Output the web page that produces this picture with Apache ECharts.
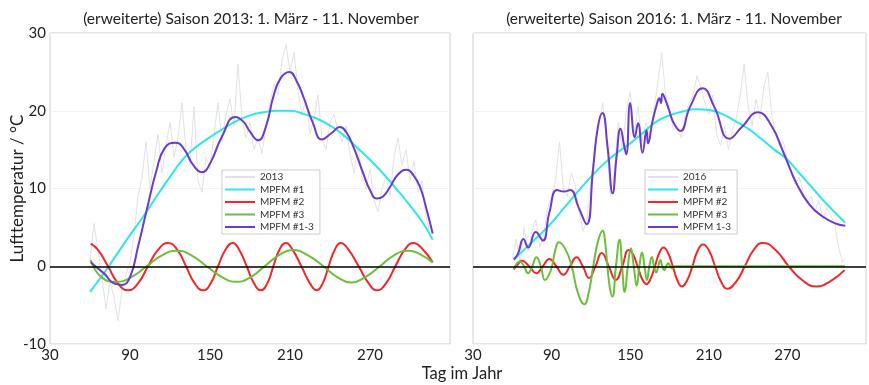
<!DOCTYPE html>
<html><head><meta charset="utf-8">
<script src="https://cdn.jsdelivr.net/npm/echarts@6/dist/echarts.min.js"></script>
<style>html,body{margin:0;padding:0;background:#fff}#c{width:869px;height:385px}</style>
</head><body><div id="c"></div>
<script>
const FONT = 'Lato, "Open Sans", sans-serif';

const titles = ['(erweiterte) Saison 2013: 1. März - 11. November', '(erweiterte) Saison 2016: 1. März - 11. November'];
const legend2013 = ['2013', 'MPFM #1', 'MPFM #2', 'MPFM #3', 'MPFM #1-3'];
const legend2016 = ['2016', 'MPFM #1', 'MPFM #2', 'MPFM #3', 'MPFM 1-3'];
const xName = 'Tag im Jahr';
const yName = 'Lufttemperatur / °C';

// ---- 2013 ----
const rawDays2013 = [60,63,66,69,72,75,78,81,84,87,90,93,96,99,102,105,108,111,114,117,120,123,126,129,132,135,138,141,144,147,150,153,156,159,162,165,168,171,174,177,180,183,186,189,192,195,198,201,204,207,210,213,216,219,222,225,228,231,234,237,240,243,246,249,252,255,258,261,264,267,270,273,276,279,282,285,288,291,294,297,300,303,306,309,312,315];
const raw2013 = [0.5,5.5,2.0,-1.5,-5.5,-2.0,-4.0,-7.0,-3.0,-1.0,0.5,4.0,9.0,11.5,16.0,10.0,13.5,17.0,12.0,15.5,18.5,14.0,16.5,21.0,15.0,13.0,20.5,11.0,9.5,14.0,12.5,17.0,21.0,16.0,19.5,21.5,18.0,26.0,19.0,16.5,18.5,15.0,16.5,14.5,18.0,21.0,23.5,22.0,26.5,28.5,25.0,27.5,22.5,19.5,21.5,17.0,19.0,22.0,16.5,15.0,18.5,19.5,17.5,16.0,18.0,14.5,12.0,15.5,11.5,10.0,12.5,8.5,7.0,10.0,11.5,9.0,14.0,16.5,13.0,15.0,11.0,13.5,9.5,11.0,6.5,4.0];

const m1Days2013 = [60,70,80,90,100,110,120,130,140,150,160,170,180,190,200,210,220,230,240,250,260,270,280,290,300,310,317];
const m1_2013 = [-3.3,-1.0,1.5,4.0,6.4,9.0,11.5,13.8,15.4,16.6,17.7,18.7,19.4,19.8,20.0,20.0,19.6,19.0,18.1,16.9,15.3,13.7,11.9,9.9,7.8,5.5,3.4];

const m2Days2013 = [60.5,66,73.5,81,88.5,96,103.5,111,118.5,125.5,132,138.5,145,150.5,156,161.5,167,172,177.5,183,188,193,197.5,202,207,212,218.5,225,230,234.5,239,243.5,248,254,261.5,269,275,282,289,296,302.5,310,317];
const m2_2013 = [2.9,2.1,0,-2.2,-3.1,-2.2,0,2.1,3.0,2.1,0,-2.2,-3.1,-2.2,0,2.1,3.0,2.1,0,-2.2,-3.1,-2.2,0,2.1,3.0,2.1,0,-2.2,-3.1,-2.2,0,2.1,3.0,2.1,0,-2.2,-3.1,-2.2,0,2.1,3.0,2.1,0.5];

const m3Days2013 = [60.5,68.5,80,91,102.5,114,125,136,147.5,159,170,180.5,191,201.5,212,223.5,235,245.5,256,266.5,277.5,288,299,308,317];
const m3_2013 = [0.8,-1.4,-2.0,-1.4,0,1.4,2.0,1.4,0,-1.4,-2.0,-1.4,0,1.4,2.1,1.4,0,-1.4,-2.1,-1.4,0,1.4,2.0,1.5,0.5];

const mAllDays2013 = [60.5,66,71,76,80,84,90,96,102.5,110,116,124,130,137.5,144,150,159,169,175,180,186,192,197.5,203,209.5,215,220,227,234,241,247.5,252,257.5,265,270,275,280,285,291,297.5,303,307.5,312,317];
const mAll2013 = [0.5,-0.3,-1.0,-2.0,-2.3,-2.4,-1.4,2.5,7.2,12.4,15.2,15.9,15.2,13.0,12.1,13.2,16.7,19.2,18.6,17.3,16.2,18.0,21.8,24.2,25.0,23.8,21.8,18.5,16.3,17.1,17.9,17.3,15.4,11.9,9.8,8.7,9.0,10.2,11.8,12.4,11.6,10.2,7.6,4.2];

// ---- 2016 ----
const rawDays2016 = [60,63,66,69,72,75,78,81,84,87,90,93,96,99,102,105,108,111,114,117,120,123,126,129,132,135,138,141,144,147,150,153,156,159,162,165,168,171,174,177,180,183,186,189,192,195,198,201,204,207,210,213,216,219,222,225,228,231,234,237,240,243,246,249,252,255,258,261,264,267,270,273,276,279,282,285,288,291,294,297,300,303,306,309,312,314];
const raw2016 = [1.0,3.5,0.5,5.0,2.0,4.5,6.0,2.5,4.0,7.5,9.0,11.0,16.0,10.0,9.0,12.0,10.5,7.0,4.5,6.0,11.0,15.5,18.0,21.0,16.0,9.0,12.5,18.5,15.0,20.0,22.5,17.0,20.5,16.0,18.5,17.0,20.0,23.5,27.5,22.0,20.5,17.5,18.0,16.5,19.5,21.0,22.0,24.5,23.0,21.0,19.5,22.0,17.0,15.5,18.0,15.0,17.5,19.0,22.0,26.0,20.5,18.0,21.5,19.0,23.0,25.0,19.5,17.0,15.5,16.0,13.5,12.0,10.5,11.5,9.5,8.0,9.0,7.0,8.5,6.0,7.5,6.5,5.5,2.5,0.5,1.0];

const m1Days2016 = [61,70,80,90,100,110,120,130,140,150,160,170,180,190,200,210,220,230,240,250,260,270,280,290,300,310,314];
const m1_2016 = [0.8,2.3,3.9,5.6,7.6,9.6,11.5,13.2,14.6,15.8,17.2,18.6,19.4,19.9,20.2,20.1,19.6,18.7,17.7,16.4,15.0,13.7,11.8,9.9,8.0,6.3,5.6];

const m2Days2016 = [61,64,67.3,72.8,78.4,83.3,88.3,93.6,98.9,104,109,113.8,118.6,123.5,128.3,133.6,139,144,148.8,152.2,155.6,159,162.4,165.6,168.9,172.2,175.4,178.9,182.5,186,189.5,193.5,197.5,201.5,205.6,210.2,214.8,219.4,224,230.8,237.5,244.3,251,261,271,281.5,292,303,313.7];
const m2_2016 = [-0.4,0.2,0.7,0,-0.9,0,0.94,0,-1.1,0,1.16,0,-1.5,0,1.7,0,-1.76,0,2.1,1.5,0,-1.6,-2.3,-1.6,0,1.7,2.4,1.7,0,-1.8,-2.6,-1.8,0,2.0,2.8,2.0,0,-2.0,-2.9,-2.0,0,2.1,3.0,2.1,0,-1.8,-2.6,-1.9,-0.5];

const m3Days2016 = [61,66,69,72,75.2,78.4,81.7,85,87.7,90.3,93,95.5,100.5,105.3,110.2,115,118.3,121.8,125.4,129,130.8,132.6,134.5,136.4,139.1,141.9,143.8,145.8,148.2,150.5,152.7,155,157,159,160.9,162.8,164.6,166.5,168.2,169.8,171.4,173,174.5,176,177.5,179,180.5,182,184,200,250,314];
const m3_2016 = [-0.4,0.6,0,-0.9,0,1.16,0,-1.76,-1.2,0,2.2,3.1,2.2,0,-3.5,-4.9,-3.4,0,3.2,4.6,3.2,0,-2.8,-3.9,0,3.4,0,-3.3,0,2.3,0,-2.5,0,1.76,0,-1.76,0,1.2,0,-0.8,0,0.8,0,-0.5,0,0.4,0,-0.3,0,0,0,0];

const mAllDays2016 = [61.1,64.3,68.5,72.2,77.9,83.3,88.3,94.2,99.4,104.3,110.5,116.7,121.6,125.3,128.8,132.7,136.6,139.6,142.6,145.4,147,150,153.5,156,159.4,162.5,163.6,167,170.6,172.2,173.5,174.6,177.1,179.6,183.3,188.3,195.7,205.3,214.2,225.8,235.2,247.5,257.4,267.3,277.1,287,296.9,306.8,314.2];
const mAll2016 = [0.9,1.6,3.5,2.4,4.4,3.3,6.9,9.8,9.6,9.8,7.6,5.4,12.4,17.9,19.7,15.4,9.4,14.1,17.7,15.5,14.4,21.0,16.6,18.4,14.6,17.5,15.8,18.6,21.0,21.6,21.0,22.2,21.3,20.1,18.4,17.4,20.5,22.9,20.5,16.4,17.9,19.8,18.2,14.5,10.6,7.9,6.4,5.5,5.2];

const C_GRAY = '#e3e1e6', C_CYAN = '#30e6e6', C_RED = '#f0282a', C_GREEN = '#6cbf3c', C_PURPLE = '#6a3cc8', C_TEXT = '#222';

function pairs(d, v) { return d.map((x, i) => [x, v[i]]); }

function lineSeries(name, idx, days, vals, color, smooth, width, extra) {
  return Object.assign({
    name: name, type: 'line', xAxisIndex: idx, yAxisIndex: idx,
    data: pairs(days, vals), smooth: smooth, symbol: 'none', showSymbol: false,
    lineStyle: { color: color, width: width }, itemStyle: { color: color },
    emphasis: { disabled: true }, silent: true
  }, extra || {});
}

const zeroLine = {
  silent: true, symbol: ['none', 'none'], label: { show: false },
  lineStyle: { color: '#000', width: 1.5, type: 'solid' },
  emphasis: { disabled: true }, data: [{ yAxis: 0 }]
};

function xAxis(idx) {
  return {
    gridIndex: idx, type: 'value', min: 30, max: 330, interval: 60,
    axisLine: { show: false }, axisTick: { show: false }, splitLine: { show: false },
    axisLabel: { fontSize: 15, color: C_TEXT, fontFamily: FONT, margin: 4,
      formatter: v => (v > 300 ? '' : String(v)) }
  };
}
function yAxis(idx, showLabels) {
  return {
    gridIndex: idx, type: 'value', min: -10, max: 30, interval: 10,
    axisLine: { show: false }, axisTick: { show: false },
    splitLine: { show: true, lineStyle: { color: '#f2f2f2', width: 1 } },
    axisLabel: { show: showLabels, fontSize: 15, color: C_TEXT, fontFamily: FONT, margin: 4 },
    name: showLabels ? yName : '', nameLocation: 'middle', nameGap: 24, nameMoveOverlap: false,
    nameTextStyle: { fontSize: 17, color: C_TEXT, fontFamily: FONT }
  };
}
function legend(data, left) {
  return {
    data: data, orient: 'vertical', left: left, top: 170,
    itemWidth: 30, itemHeight: 10, itemGap: 2.5, padding: [2, 6, 2, 2],
    borderColor: '#ccc', borderWidth: 1, backgroundColor: '#fff',
    itemStyle: { opacity: 0 },
    textStyle: { fontSize: 10, color: '#333', fontFamily: FONT },
    selectedMode: false
  };
}

const chart = echarts.init(document.getElementById('c'), null, { renderer: 'canvas' });
chart.setOption({
  animation: false,
  backgroundColor: '#fff',
  grid: [
    { left: 50, top: 33, width: 400, height: 311, show: true, borderColor: '#cfcfcf', borderWidth: 1, backgroundColor: 'transparent' },
    { left: 473, top: 33, width: 405, height: 311, show: true, borderColor: '#cfcfcf', borderWidth: 1, backgroundColor: 'transparent' }
  ],
  xAxis: [xAxis(0), xAxis(1)],
  yAxis: [yAxis(0, true), yAxis(1, false)],
  legend: [legend(legend2013, 222), legend(legend2016, 645)],
  graphic: [
    { type: 'text', x: 251, y: 19, style: { text: titles[0], fontSize: 15.5, fontFamily: FONT, fill: C_TEXT, align: 'center', verticalAlign: 'middle', textAlign: 'center', textVerticalAlign: 'middle' } },
    { type: 'text', x: 674, y: 19, style: { text: titles[1], fontSize: 15.5, fontFamily: FONT, fill: C_TEXT, align: 'center', verticalAlign: 'middle', textAlign: 'center', textVerticalAlign: 'middle' } },
    { type: 'text', x: 462, y: 374, style: { text: xName, fontSize: 16.5, fontFamily: FONT, fill: C_TEXT, align: 'center', verticalAlign: 'middle', textAlign: 'center', textVerticalAlign: 'middle' } }
  ],
  series: [
    lineSeries('2013', 0, rawDays2013, raw2013, C_GRAY, false, 1, { markLine: zeroLine }),
    lineSeries('MPFM #1', 0, m1Days2013, m1_2013, C_CYAN, true, 2),
    lineSeries('MPFM #2', 0, m2Days2013, m2_2013, C_RED, true, 2),
    lineSeries('MPFM #3', 0, m3Days2013, m3_2013, C_GREEN, true, 2),
    lineSeries('MPFM #1-3', 0, mAllDays2013, mAll2013, C_PURPLE, true, 2),
    lineSeries('2016', 1, rawDays2016, raw2016, C_GRAY, false, 1, { markLine: zeroLine }),
    lineSeries('MPFM #1', 1, m1Days2016, m1_2016, C_CYAN, true, 2),
    lineSeries('MPFM #2', 1, m2Days2016, m2_2016, C_RED, true, 2),
    lineSeries('MPFM #3', 1, m3Days2016, m3_2016, C_GREEN, true, 2),
    lineSeries('MPFM 1-3', 1, mAllDays2016, mAll2016, C_PURPLE, true, 2)
  ]
});
</script></body></html>
